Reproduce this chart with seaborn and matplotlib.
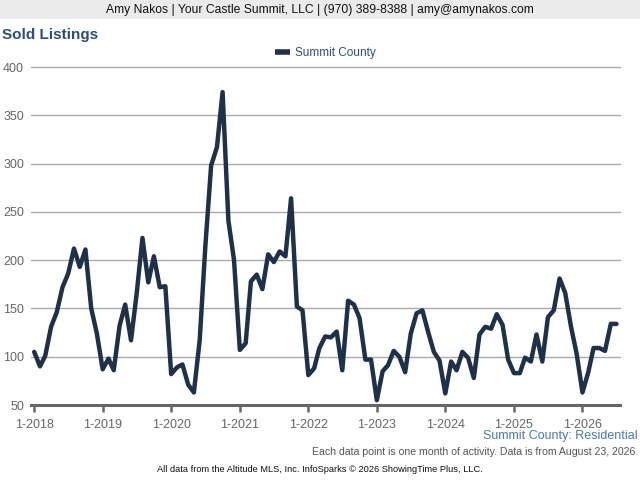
import numpy as np
import pandas as pd
import matplotlib
matplotlib.use("Agg")
import matplotlib.pyplot as plt
import seaborn as sns

# monthly sold listings, Jan 2018 .. Jul 2026
sold_2018 = [105, 90, 101, 131, 146, 172, 186, 212, 193, 211, 150, 124]
sold_2019 = [87, 98, 86, 132, 154, 117, 165, 223, 177, 204, 172, 173]
sold_2020 = [82, 89, 92, 71, 63, 117, 214, 298, 317, 374, 241, 200]
sold_2021 = [107, 114, 178, 185, 170, 206, 198, 209, 204, 264, 152, 148]
sold_2022 = [81, 88, 109, 121, 120, 126, 86, 158, 154, 140, 97, 97]
sold_2023 = [55, 85, 91, 106, 100, 84, 124, 145, 148, 126, 105, 96]
sold_2024 = [62, 95, 86, 105, 99, 78, 123, 131, 129, 144, 133, 97]
sold_2025 = [83, 83, 99, 95, 123, 95, 141, 148, 181, 166, 131, 103]
sold_2026 = [63, 84, 109, 109, 106, 134, 134]

series_name = "Summit County"
year_ticks = list(range(2018, 2027))

values = (sold_2018 + sold_2019 + sold_2020 + sold_2021 + sold_2022
          + sold_2023 + sold_2024 + sold_2025 + sold_2026)
months = pd.date_range("2018-01-01", periods=len(values), freq="MS")
df = pd.DataFrame({"month": months, "sold": values, "area": series_name})

sns.set_theme(style="white")
plt.rcParams["font.family"] = ["Liberation Sans", "DejaVu Sans"]

fig = plt.figure(figsize=(6.4, 4.8), dpi=100)
fig.patch.set_facecolor("white")

# top banner
fig.patches.append(plt.Rectangle((0, 1 - 19 / 480), 1, 19 / 480, transform=fig.transFigure,
                                 facecolor="#ebebeb", edgecolor="none", zorder=0))
fig.text(0.5, 1 - 10 / 480, "Amy Nakos | Your Castle Summit, LLC | (970) 389-8388 | amy@amynakos.com",
         ha="center", va="center", fontsize=8.75, color="#111111")
fig.text(2 / 640, 1 - 35 / 480, "Sold Listings", ha="left", va="center",
         fontsize=11, fontweight="bold", color="#2b4f7a")

ax = fig.add_axes([31 / 640, 1 - 405 / 480, (620 - 31) / 640, (405 - 67) / 480])
line_color = "#1f3049"
sns.lineplot(data=df, x="month", y="sold", hue="area", palette=[line_color],
             linewidth=3.2, ax=ax, legend=True)

ax.set_ylim(50, 400)
ax.set_yticks(np.arange(50, 401, 50))
ax.set_xlim(pd.Timestamp("2017-12-15"), pd.Timestamp("2026-07-20"))
tick_dates = [pd.Timestamp(f"{y}-01-01") for y in year_ticks]
ax.set_xticks(tick_dates)
ax.set_xticklabels([f"1-{y}" for y in year_ticks])
ax.set_xlabel("")
ax.set_ylabel("")

ax.grid(axis="y", color="#aaaaaa", linewidth=1)
ax.grid(axis="x", visible=False)
for side in ["left", "right", "top"]:
    ax.spines[side].set_visible(False)
ax.spines["bottom"].set_color("#666666")
ax.spines["bottom"].set_linewidth(2.2)
ax.tick_params(axis="x", colors="#666666", direction="out", length=5, width=1.8,
               labelsize=9, pad=5, bottom=True)
ax.tick_params(axis="y", colors="#666666", length=0, labelsize=9, pad=5)
for lbl in ax.get_xticklabels() + ax.get_yticklabels():
    lbl.set_color("#666666")

for gl in ax.get_ygridlines():
    gl.set_clip_on(False)

leg = ax.legend(loc="center", bbox_to_anchor=(0.5, 1 + 14 / 338), frameon=False,
                fontsize=8.5, handlelength=1.3, handletextpad=0.4, title=None)
for t in leg.get_texts():
    t.set_color("#2b4f7a")
for h in leg.get_lines():
    h.set_linewidth(4)
    h.set_solid_capstyle("butt")

fig.text(638 / 640, 1 - 436 / 480, "Summit County: Residential", ha="right", va="center",
         fontsize=9, color="#4a7ab0")
fig.text(638 / 640, 1 - 452 / 480,
         "Each data point is one month of activity. Data is from August 23, 2026.",
         ha="right", va="center", fontsize=7.6, color="#555555")
fig.text(320 / 640, 1 - 470 / 480,
         "All data from the Altitude MLS, Inc. InfoSparks \u00a9 2026 ShowingTime Plus, LLC.",
         ha="center", va="center", fontsize=6.7, color="#111111")

fig.savefig("out.png", dpi=100)
